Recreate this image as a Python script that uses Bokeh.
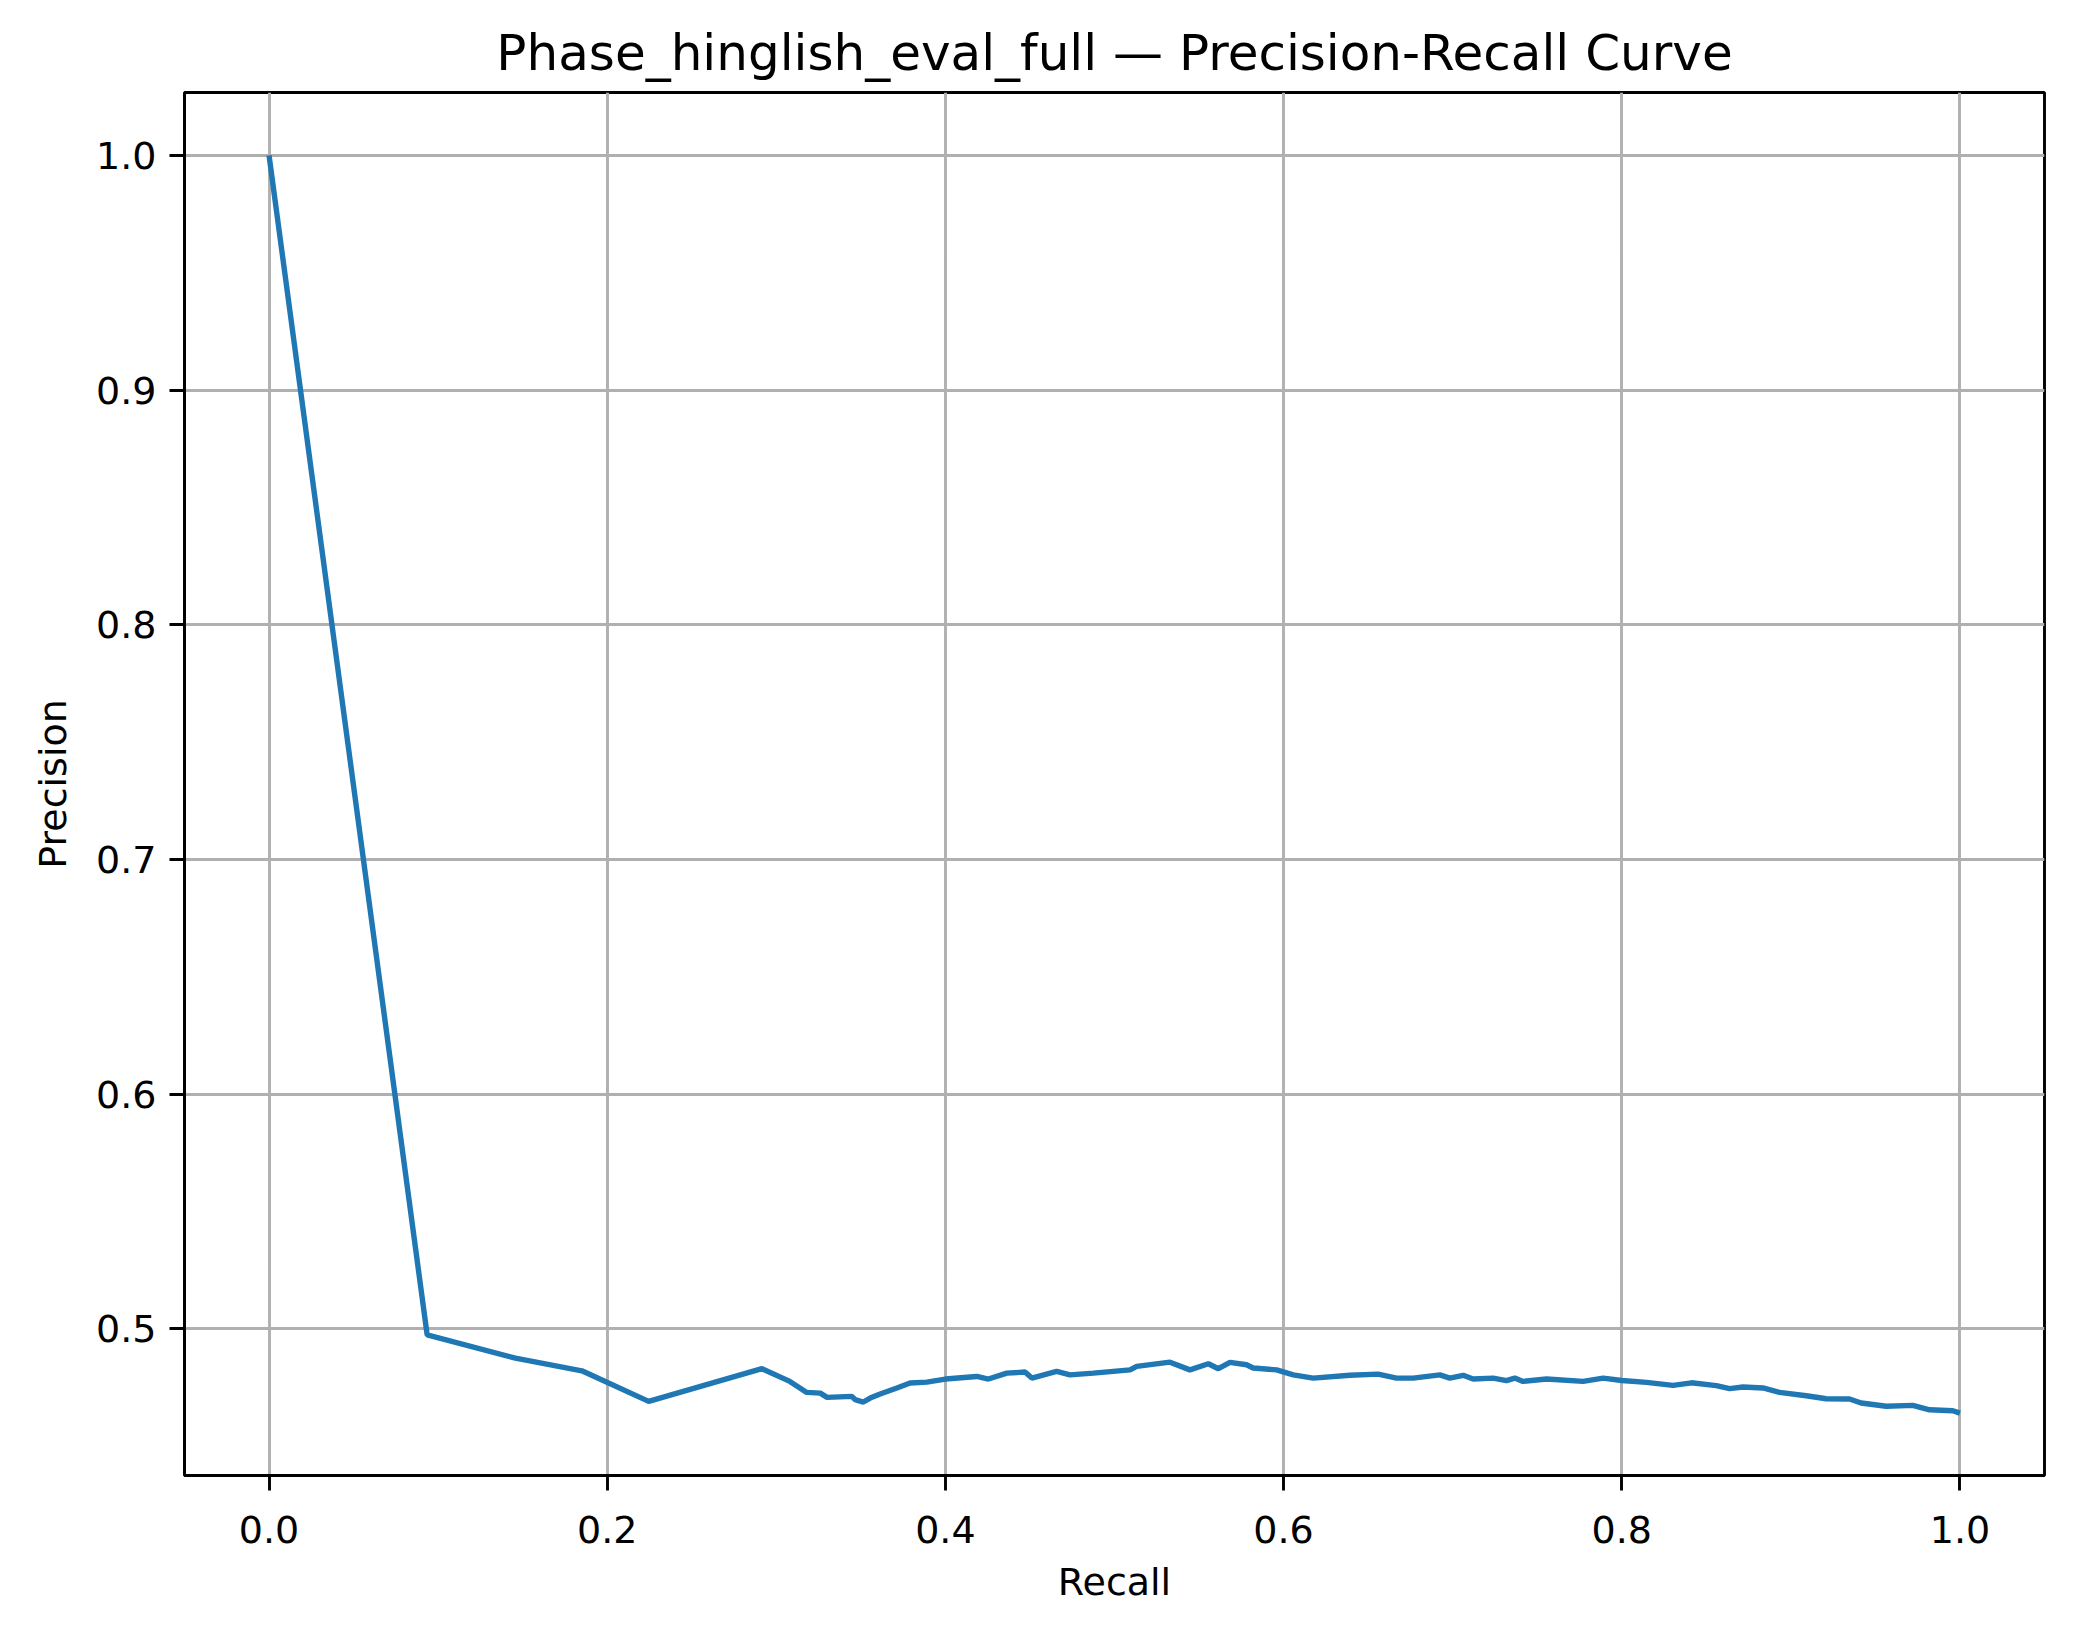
from bokeh.plotting import figure
from bokeh.models import FixedTicker, NumeralTickFormatter, Range1d
from bokeh.embed import file_html
from bokeh.resources import INLINE

recall = [0.0, 0.0935, 0.1457, 0.185, 0.2245, 0.2915, 0.308, 0.318, 0.326, 0.330,
          0.3447, 0.3466, 0.3515, 0.3555, 0.3614, 0.3713, 0.3791, 0.389, 0.400, 0.4186,
          0.4254, 0.4363, 0.4471, 0.4511, 0.4658, 0.4737, 0.4875, 0.5092, 0.5131, 0.5328,
          0.5446, 0.5555, 0.5614, 0.5683, 0.5781, 0.5820, 0.5959, 0.6057, 0.6175, 0.6392,
          0.6559, 0.6668, 0.6766, 0.6924, 0.6983, 0.7062, 0.7121, 0.7239, 0.7318, 0.7367,
          0.7416, 0.7555, 0.7771, 0.7890, 0.8000, 0.8146, 0.8303, 0.8412, 0.8559, 0.8638,
          0.8717, 0.8835, 0.8933, 0.9091, 0.9209, 0.9347, 0.9416, 0.9564, 0.9721, 0.9820,
          0.9958, 1.0]
precision = [1.0, 0.4974, 0.4875, 0.4821, 0.4691, 0.4830, 0.4776, 0.4729, 0.4726, 0.4708,
             0.4712, 0.4698, 0.4688, 0.4705, 0.4722, 0.4748, 0.4769, 0.4773, 0.4786, 0.4797,
             0.4786, 0.4811, 0.4816, 0.4790, 0.4819, 0.4804, 0.4811, 0.4825, 0.4840, 0.4858,
             0.4825, 0.4851, 0.4830, 0.4857, 0.4847, 0.4833, 0.4825, 0.4804, 0.4790, 0.4802,
             0.4807, 0.4790, 0.4790, 0.4804, 0.4790, 0.4802, 0.4786, 0.4790, 0.4779, 0.4790,
             0.4776, 0.4786, 0.4776, 0.4790, 0.4780, 0.4772, 0.4759, 0.4770, 0.4758, 0.4745,
             0.4752, 0.4748, 0.4729, 0.4715, 0.4702, 0.4701, 0.4684, 0.4670, 0.4674, 0.4655,
             0.4651, 0.4641]

x_ticks = [0.0, 0.2, 0.4, 0.6, 0.8, 1.0]
y_ticks = [0.5, 0.6, 0.7, 0.8, 0.9, 1.0]

FONT = "DejaVu Sans"

p = figure(width=2058, height=1622, output_backend="svg", toolbar_location=None,
           title="Phase_hinglish_eval_full \u2014 Precision-Recall Curve",
           x_range=Range1d(-0.05, 1.05), y_range=Range1d(0.4375, 1.0268),
           min_border_left=184, min_border_right=14, min_border_top=92, min_border_bottom=147)

p.line(recall, precision, line_color="#1f77b4", line_width=5.4)

p.title.text_font = FONT
p.title.text_font_size = "50px"
p.title.text_font_style = "normal"
p.title.text_color = "black"
p.title.align = "center"
p.title.standoff = 21

p.outline_line_color = "black"
p.outline_line_width = 2.9
p.outline_line_alpha = 1.0

for ax, ticks in ((p.xaxis[0], x_ticks), (p.yaxis[0], y_ticks)):
    ax.ticker = FixedTicker(ticks=ticks)
    ax.formatter = NumeralTickFormatter(format="0.0")
    ax.minor_tick_line_color = None
    ax.major_tick_in = 0
    ax.major_tick_out = 15
    ax.major_tick_line_width = 2.9
    ax.major_tick_line_color = "black"
    ax.axis_line_color = "black"
    ax.axis_line_width = 2.9
    ax.major_label_text_font = FONT
    ax.major_label_text_font_size = "38px"
    ax.major_label_text_color = "black"
    ax.axis_label_text_font = FONT
    ax.axis_label_text_font_size = "38px"
    ax.axis_label_text_font_style = "normal"
    ax.axis_label_text_color = "black"

p.xaxis.axis_label = "Recall"
p.yaxis.axis_label = "Precision"
p.xaxis.major_label_standoff = 25
p.yaxis.major_label_standoff = 13
p.xaxis.axis_label_standoff = 14
p.yaxis.axis_label_standoff = 18

p.xgrid.ticker = FixedTicker(ticks=x_ticks)
p.ygrid.ticker = FixedTicker(ticks=y_ticks)
p.grid.grid_line_color = "#b0b0b0"
p.grid.grid_line_width = 2.9
p.grid.grid_line_alpha = 1.0

p.background_fill_color = "white"
p.border_fill_color = "white"

open("out.html", "w").write(file_html(p, INLINE))
